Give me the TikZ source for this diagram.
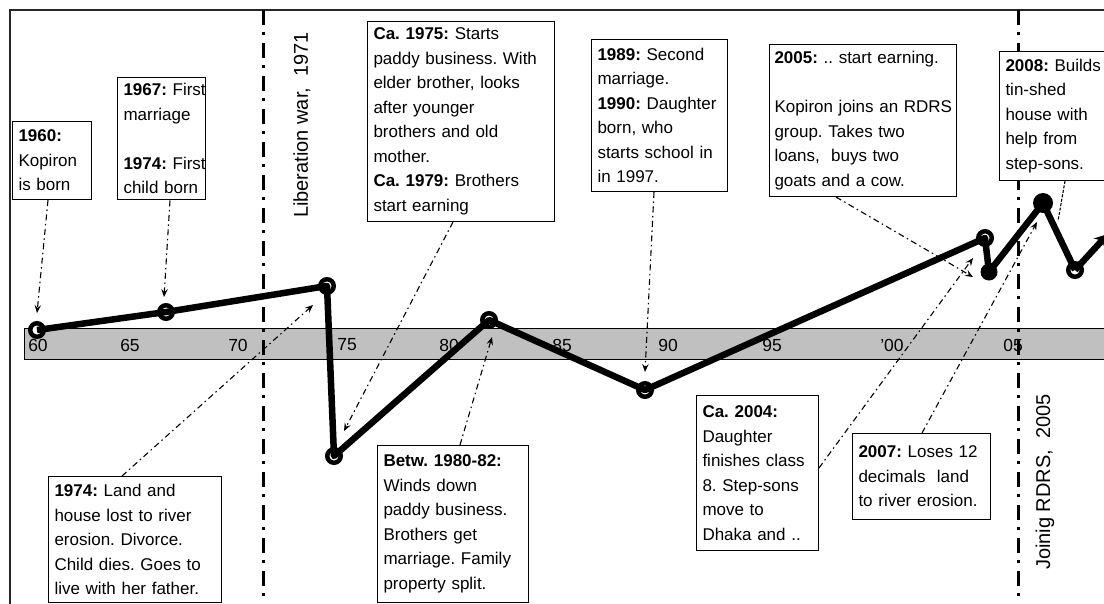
\documentclass[tikz,border=0pt]{standalone}
\usepackage{fontspec}
\setmainfont{Liberation Sans}
\usetikzlibrary{calc,arrows.meta}
\definecolor{bandgray}{RGB}{192,192,192}
\newcommand{\bxl}[1]{\mbox{#1}}
\tikzset{
  box/.style={draw=black, line width=1pt, fill=white, anchor=north west, align=left,
    inner sep=6pt, font=\fontsize{17}{24.5}\selectfont\frenchspacing},
  conn/.style={line width=1.1pt, dash pattern=on 6pt off 3.5pt on 1.5pt off 3.5pt,
    -{Stealth[length=8pt,width=6.5pt,inset=3pt]}},
  era/.style={line width=3pt, dash pattern=on 15pt off 7pt on 3pt off 8pt},
  datal/.style={line width=6.5pt, line join=round},
  mk/.style={circle, draw=black, line width=4.5pt, fill=white, inner sep=0pt, minimum size=13.5pt},
  mkf/.style={circle, fill=black, inner sep=0pt, minimum size=#1},
  axlab/.style={font=\fontsize{17.5}{19}\selectfont},
  vlab/.style={rotate=90, font=\fontsize{20}{22}\selectfont},
}
\begin{document}
\begin{tikzpicture}[x=1pt,y=-1pt]
\useasboundingbox (0,0) rectangle (1104,603);
\clip (0,0) rectangle (1104,603);
% frame
\draw[line width=1.5pt, black!85] (10,610) -- (10,10) -- (1110,10);
% band
\draw[fill=bandgray, line width=0.8pt] (24,328) rectangle (1112,359);
% axis labels
\node[axlab] (y60) at (38,345) {60};
\node[axlab] (y65) at (130,345) {65};
\node[axlab] (y70) at (238,345) {70};
\node[axlab] (y75) at (347,345) {75};
\node[axlab] (y80) at (449,345) {80};
\node[axlab] (y85) at (562,345) {85};
\node[axlab] (y90) at (668,345) {90};
\node[axlab] (y95) at (772,345) {95};
\node[axlab] (y00) at (892,345) {\char39 00};
\node[axlab] (y05) at (1013,345) {05};
% era lines
\coordinate (e1t) at (263,10);
\coordinate (e1b) at (263,610);
\coordinate (e2t) at (1018,10);
\coordinate (e2b) at (1018,610);
\draw[era] (e1t) -- (e1b);
\draw[era] (e2t) -- (e2b);
\node[vlab] (lw) at (302,125) {Liberation war,\ \ 1971};
\node[vlab] (jr) at (1045,482) {Joinig RDRS,\ \ 2005};
% data points
\coordinate (p1) at (37,330);
\coordinate (p2) at (166,312);
\coordinate (p3) at (327,286);
\coordinate (p4) at (334,456);
\coordinate (p5) at (489,320);
\coordinate (p6) at (645,390);
\coordinate (p7) at (985,238);
\coordinate (p8) at (989,272);
\coordinate (p9) at (1043,203);
\coordinate (p10) at (1075,270);
\coordinate (p11) at (1108,234);
\foreach \p in {p1,p2,p3,p4,p5,p6,p7,p10} \node[mk] (m\p) at (\p) {};
\draw[datal] (p1) -- (p2) -- (p3) -- (p4) -- (p5) -- (p6) -- (p7) -- (p8) -- (p9) -- (p10);
\draw[datal, -{Stealth[length=13pt,width=15pt]}] (p10) -- (p11);
\node[mkf=17pt] (mp8) at (p8) {};
\node[mkf=20pt] (mp9) at (p9) {};
% boxes
\node[box, text width=67pt, minimum height=78pt] (b1960) at (12,121)
  {\bxl{\textbf{1960:}}\\\bxl{Kopiron}\\\bxl{is born}};
\node[box, text width=76pt, minimum height=121pt] (b1967) at (117,77)
  {\bxl{\textbf{1967:} First}\\\bxl{marriage}\\[24.5pt]\bxl{\textbf{1974:} First}\\\bxl{child born}};
\node[box, text width=175pt, minimum height=200pt] (b1975) at (367,21)
  {\bxl{\textbf{Ca. 1975:} Starts}\\\bxl{paddy business. With}\\\bxl{elder brother, looks}\\\bxl{after younger}\\\bxl{brothers and old}\\\bxl{mother.}\\\bxl{\textbf{Ca. 1979:} Brothers}\\\bxl{start earning}};
\node[box, text width=124pt, minimum height=152pt] (b1989) at (591,39)
  {\bxl{\textbf{1989:} Second}\\\bxl{marriage.}\\\bxl{\textbf{1990:} Daughter}\\\bxl{born, who}\\\bxl{starts school in}\\\bxl{in 1997.}};
\node[box, text width=177pt, minimum height=152pt, inner xsep=5pt] (b2005) at (769,44)
  {\bxl{\textbf{2005:} .. start earning.}\\[24.5pt]\bxl{Kopiron joins an RDRS}\\\bxl{group. Takes two}\\\bxl{loans,\ \ buys two}\\\bxl{goats and a cow.}};
\node[box, text width=130pt, minimum height=129pt] (b2008) at (999,51)
  {\bxl{\textbf{2008:} Builds}\\\bxl{tin-shed}\\\bxl{house with}\\\bxl{help from}\\\bxl{step-sons.}};
\node[box, text width=161pt, minimum height=126pt] (b1974) at (48,476)
  {\bxl{\textbf{1974:} Land and}\\\bxl{house lost to river}\\\bxl{erosion. Divorce.}\\\bxl{Child dies. Goes to}\\\bxl{live with her father.}};
\node[box, text width=139pt, minimum height=157pt] (bBetw) at (377,445)
  {\bxl{\textbf{Betw. 1980-82:}}\\\bxl{Winds down}\\\bxl{paddy business.}\\\bxl{Brothers get}\\\bxl{marriage. Family}\\\bxl{property split.}};
\node[box, text width=110pt, minimum height=155pt] (b2004) at (696,395)
  {\bxl{\textbf{Ca. 2004:}}\\\bxl{Daughter}\\\bxl{finishes class}\\\bxl{8. Step-sons}\\\bxl{move to}\\\bxl{Dhaka and ..}};
\node[box, text width=126pt, minimum height=86pt] (b2007) at (852,433)
  {\bxl{\textbf{2007:} Loses 12}\\\bxl{decimals\ \ land}\\\bxl{to river erosion.}};
% connector tips
\coordinate (t1) at (37,313);
\coordinate (t2) at (164,297);
\coordinate (t3) at (313,305);
\coordinate (t4) at (344,431);
\coordinate (t5) at (492,337);
\coordinate (t6) at (645,372);
\coordinate (t7) at (973,277);
\coordinate (t8) at (973,258);
\coordinate (t9) at (1037,222);
\coordinate (t10) at (1058,221);
% connectors
\draw[conn] ($(b1960.south west)+(36,0)$) -- (t1);
\draw[conn] ($(b1967.south west)+(53,0)$) -- (t2);
\draw[conn] ($(b1974.north west)+(74,0)$) -- (t3);
\draw[conn] ($(b1975.south west)+(86,0)$) -- (t4);
\draw[conn] ($(bBetw.north west)+(83,0)$) -- (t5);
\draw[conn] ($(b1989.south west)+(63,0)$) -- (t6);
\draw[conn] ($(b2005.south west)+(67,0)$) -- (t7);
\draw[conn] ($(b2004.north east)+(0,73)$) -- (t8);
\draw[conn] ($(b2007.north west)+(70,0)$) -- (t9);
\draw[line width=1.1pt, dash pattern=on 3pt off 1.5pt] ($(b2008.south west)+(66,0)$) -- (t10);
\end{tikzpicture}
\end{document}
